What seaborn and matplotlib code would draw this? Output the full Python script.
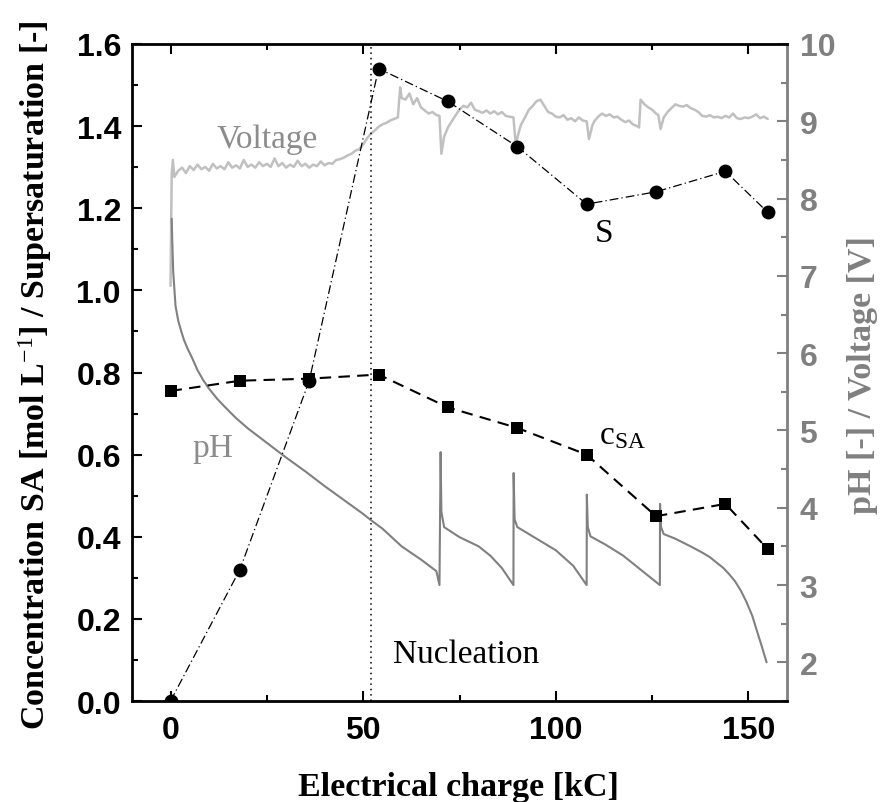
import numpy as np
import pandas as pd
import matplotlib
matplotlib.use("Agg")
import matplotlib.pyplot as plt
from matplotlib.ticker import MultipleLocator
import seaborn as sns

# ---------------- data ----------------
sample_charge = [0, 18, 36, 54, 72, 90, 108, 126, 144, 155]
supersaturation = [0.0, 0.32, 0.78, 1.54, 1.46, 1.35, 1.21, 1.24, 1.29, 1.19]
conc_sa = [0.755, 0.78, 0.785, 0.795, 0.715, 0.665, 0.60, 0.45, 0.48, 0.37]

ph_charge = [0.3, 0.45, 0.7, 1.3, 2, 2.8, 3.5, 4.5, 5.5, 7, 8.5, 10, 12.1, 14, 17, 20,
             25, 30, 35, 40, 45, 50, 52, 55, 60, 65, 69, 69.8, 70.1, 70.3, 71, 75,
             80, 83, 86, 89, 89.05, 89.3, 90, 95, 100, 104.5, 108, 108.05, 108.3,
             109, 113, 117.5, 122, 127, 127.05, 127.3, 128, 131, 135, 138, 140, 142,
             143.5, 145, 146.5, 148, 149.5, 151, 152.3, 153.5, 154.7]
ph_value = [7.74, 7.45, 7.05, 6.61, 6.42, 6.28, 6.17, 6.05, 5.95, 5.78, 5.65, 5.54,
            5.41, 5.31, 5.16, 5.03, 4.84, 4.65, 4.47, 4.28, 4.10, 3.92, 3.84, 3.73,
            3.50, 3.33, 3.18, 3.0, 4.72, 3.95, 3.75, 3.62, 3.50, 3.38, 3.22, 3.0,
            4.45, 3.85, 3.75, 3.6, 3.45, 3.25, 3.0, 4.17, 3.75, 3.63, 3.52, 3.38,
            3.2, 3.0, 4.05, 3.75, 3.66, 3.6, 3.5, 3.42, 3.36, 3.28, 3.22, 3.14, 3.05,
            2.93, 2.78, 2.60, 2.39, 2.20, 2.0]

voltage_charge = [0, 0.3, 0.6, 1, 2, 3, 4, 5, 6, 7, 8, 9, 10, 11, 12, 13, 14, 15, 16, 17,
                  18, 19, 20, 21, 22, 23, 24, 25, 26, 27, 28, 29, 30, 31, 32, 33, 34, 35,
                  36, 37, 38, 39, 40, 41, 42, 43, 44, 45, 46, 47, 48, 49, 50, 51, 52, 53,
                  54, 55, 56, 57, 58, 59, 59.6, 60, 61, 62, 63, 64, 65, 66, 67, 68, 69,
                  69.8, 70.3, 71, 72, 73, 74, 75, 76, 77, 78, 79, 80, 81, 82, 83, 84, 85,
                  86, 87, 88, 89, 89.6, 90.5, 91, 92, 93, 94, 95, 96, 97, 98, 99, 100,
                  101, 102, 103, 104, 105, 106, 107, 108, 108.6, 109.5, 110, 111, 112,
                  113, 114, 115, 116, 117, 118, 119, 120, 121, 121.6, 122, 123, 124, 125,
                  126, 126.6, 127.2, 128, 129, 130, 131, 132, 133, 134, 135, 136, 137,
                  138, 139, 140, 141, 142, 143, 144, 145, 146, 147, 148, 149, 150, 151,
                  152, 153, 154, 155]
voltage_value = [6.87, 8.30, 8.50, 8.28, 8.36, 8.40, 8.33, 8.42, 8.37, 8.44, 8.38, 8.41,
                 8.36, 8.45, 8.39, 8.42, 8.38, 8.47, 8.40, 8.43, 8.39, 8.50, 8.41, 8.44,
                 8.40, 8.47, 8.42, 8.45, 8.41, 8.52, 8.42, 8.46, 8.40, 8.44, 8.41, 8.49,
                 8.42, 8.45, 8.40, 8.44, 8.42, 8.48, 8.43, 8.46, 8.45, 8.50, 8.51, 8.53,
                 8.56, 8.58, 8.62, 8.64, 8.70, 8.78, 8.84, 8.88, 8.93, 8.96, 8.98, 9.01,
                 9.03, 9.05, 9.44, 9.30, 9.28, 9.36, 9.22, 9.30, 9.18, 9.14, 9.10, 9.12,
                 9.08, 9.07, 8.58, 8.80, 8.92, 9.00, 9.08, 9.15, 9.20, 9.18, 9.24, 9.15,
                 9.13, 9.11, 9.14, 9.10, 9.13, 9.09, 9.12, 9.07, 9.06, 9.05, 8.70, 8.88,
                 8.96, 9.05, 9.15, 9.20, 9.26, 9.28, 9.20, 9.12, 9.10, 9.06, 9.05, 9.08,
                 9.02, 9.04, 9.00, 9.05, 9.01, 9.00, 8.77, 8.95, 9.00, 9.06, 9.10, 9.07,
                 9.09, 9.05, 9.06, 9.02, 8.99, 9.01, 8.96, 8.94, 8.92, 9.28, 9.22, 9.18,
                 9.15, 9.10, 9.08, 8.90, 9.05, 9.12, 9.17, 9.22, 9.20, 9.19, 9.21, 9.17,
                 9.15, 9.12, 9.07, 9.06, 9.08, 9.05, 9.06, 9.04, 9.07, 9.05, 9.10, 9.04,
                 9.03, 9.05, 9.04, 9.06, 9.09, 9.04, 9.06, 9.03]

nucleation_charge = 52

assert len(voltage_charge) == len(voltage_value)
assert len(ph_charge) == len(ph_value)

# ---------------- style ----------------
sns.set_theme(style="ticks")
plt.rcParams["font.family"] = ["Liberation Sans", "DejaVu Sans"]
plt.rcParams["mathtext.fontset"] = "custom"
plt.rcParams["mathtext.rm"] = "Liberation Serif"
plt.rcParams["mathtext.it"] = "Liberation Serif:italic"
plt.rcParams["mathtext.bf"] = "Liberation Serif:bold"

GREY = "#808080"
LIGHT = "#c0c0c0"
SERIF = "Liberation Serif"
TICK_FS = 23

fig = plt.figure(figsize=(8.88, 8.03), dpi=100)
ax1 = fig.add_axes([132 / 888, 1 - 702 / 803, 655 / 888, 657 / 803])
ax2 = ax1.twinx()
ax1.set_zorder(ax2.get_zorder() + 1)
ax1.patch.set_visible(False)

df_s = pd.DataFrame({"charge": sample_charge, "S": supersaturation, "c": conc_sa})
df_ph = pd.DataFrame({"charge": ph_charge, "pH": ph_value})
df_v = pd.DataFrame({"charge": voltage_charge, "V": voltage_value})

# right axis curves
sns.lineplot(data=df_v, x="charge", y="V", ax=ax2, color=LIGHT, lw=1.8,
             sort=False, estimator=None)
sns.lineplot(data=df_ph, x="charge", y="pH", ax=ax2, color=GREY, lw=1.5,
             sort=False, estimator=None)

# left axis series
ax1.axvline(nucleation_charge, color="black", lw=1.1, linestyle=(0, (1, 2.5)))
sns.lineplot(data=df_s, x="charge", y="S", ax=ax1, color="black", lw=0.9,
             linestyle=(0, (7, 2.5, 1, 2.5)), marker="o", markersize=10,
             markeredgewidth=0, sort=False, estimator=None)
sns.lineplot(data=df_s, x="charge", y="c", ax=ax1, color="black", lw=1.5,
             linestyle=(0, (5.5, 3.5)), marker="s", markersize=8.5,
             markeredgewidth=0, sort=False, estimator=None)

# limits & ticks
ax1.set_xlim(-10, 160)
ax1.set_ylim(0, 1.6)
ax2.set_ylim(1.5, 10)
ax1.xaxis.set_major_locator(MultipleLocator(50))
ax1.xaxis.set_minor_locator(MultipleLocator(25))
ax1.yaxis.set_major_locator(MultipleLocator(0.2))
ax1.yaxis.set_minor_locator(MultipleLocator(0.1))
ax2.yaxis.set_major_locator(MultipleLocator(1))
ax2.yaxis.set_minor_locator(MultipleLocator(0.5))

for sp in ["left", "bottom", "top"]:
    ax1.spines[sp].set_visible(True)
    ax1.spines[sp].set_linewidth(2)
    ax1.spines[sp].set_color("black")
ax1.spines["right"].set_visible(False)
for sp in ["left", "bottom", "top"]:
    ax2.spines[sp].set_visible(False)
ax2.spines["right"].set_visible(True)
ax2.spines["right"].set_linewidth(2)
ax2.spines["right"].set_color(GREY)

ax1.tick_params(axis="x", which="both", direction="in", top=True, bottom=True,
                width=1.5, labelsize=TICK_FS, pad=10, colors="black")
ax1.tick_params(axis="y", which="both", direction="in", left=True, right=False,
                width=1.5, labelsize=TICK_FS, pad=8, colors="black")
ax1.tick_params(which="major", length=7)
ax1.tick_params(which="minor", length=4.5)
ax2.tick_params(axis="y", which="both", direction="in", right=True, left=False,
                width=1.5, labelsize=TICK_FS, pad=9, colors=GREY)
ax2.tick_params(which="major", length=7)
ax2.tick_params(which="minor", length=4.5)
for lab in ax1.get_xticklabels() + ax1.get_yticklabels() + ax2.get_yticklabels():
    lab.set_fontweight("bold")

# axis labels
ax1.set_xlabel("Electrical charge [kC]", fontsize=24.5, fontweight="bold",
               family=SERIF, color="black")
ax1.set_ylabel(r"Concentration SA [mol L$^{-1}$] / Supersaturation [-]",
               fontsize=24.5, fontweight="bold", family=SERIF, color="black")
ax2.set_ylabel("pH [-] / Voltage [V]", fontsize=24.5, fontweight="bold",
               family=SERIF, color=GREY)
ax1.xaxis.label.set_va("center")
ax1.yaxis.label.set_va("center")
ax2.yaxis.label.set_va("center")
ax1.xaxis.set_label_coords(0.498, -0.13)
ax1.yaxis.set_label_coords(-0.148, 0.498)
ax2.yaxis.set_label_coords(1.116, 0.498)

# annotations
ax1.text(25.2, 1.37, "Voltage", fontsize=24, family=SERIF, color="#8c8c8c",
         ha="center", va="center")
ax1.text(11.0, 0.616, "pH", fontsize=24, family=SERIF, color="#8c8c8c",
         ha="center", va="center")
ax1.text(112.4, 1.141, "S", fontsize=24, family=SERIF, color="black",
         ha="center", va="center")
ax1.text(117.3, 0.648, r"c$_{\mathrm{SA}}$", fontsize=24, family=SERIF,
         color="black", ha="center", va="center")
ax1.text(76.6, 0.115, "Nucleation", fontsize=24, family=SERIF, color="black",
         ha="center", va="center")

fig.savefig("out.png", dpi=100, facecolor="white")
